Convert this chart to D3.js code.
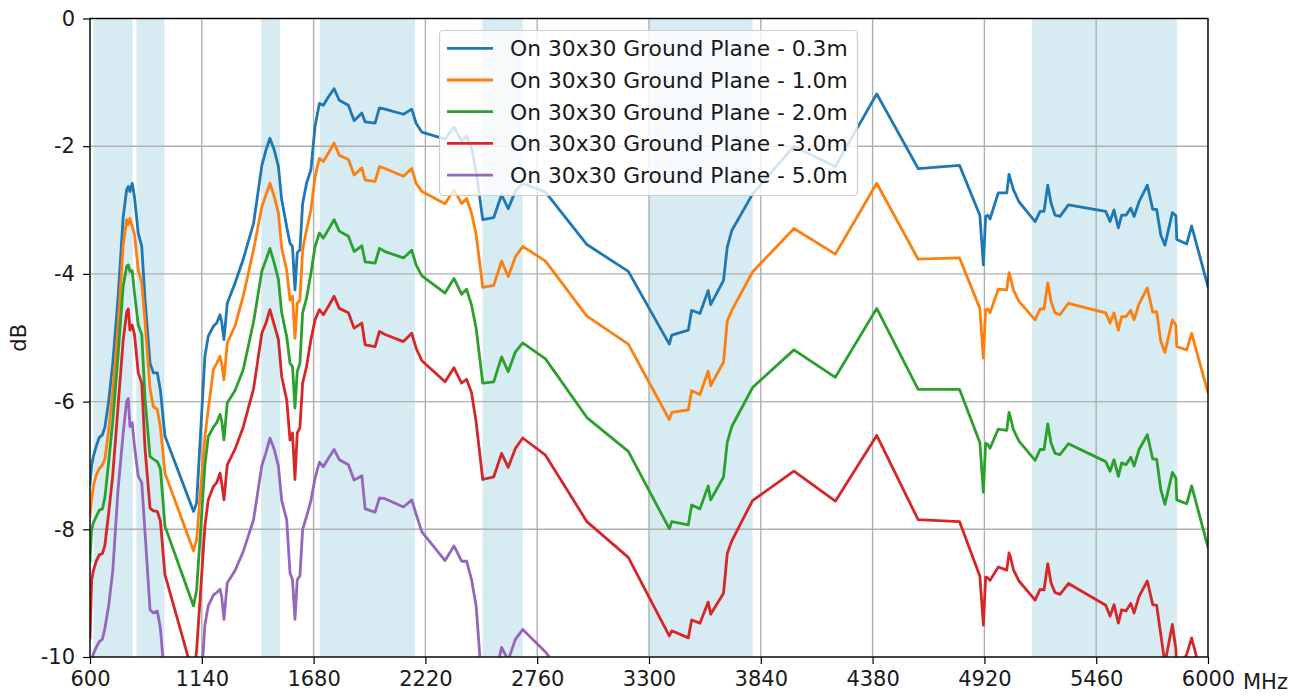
<!DOCTYPE html>
<html>
<head>
<meta charset="utf-8">
<script src="https://cdn.jsdelivr.net/npm/d3@7"></script>
<style>
  html, body { margin: 0; padding: 0; background: #fff; }
  svg { display: block; font-family: "DejaVu Sans", sans-serif; }
</style>
</head>
<body>
<svg id="chart" width="1305" height="695"></svg>
<script>
// ---------- data ----------
const freqMHz = [
  600, 608, 616, 630, 645, 660, 672, 690, 710, 735,
  760, 777, 785, 793, 804, 815, 833, 850, 866, 890,
  906, 925, 940, 962, 1100, 1115, 1155, 1171, 1196, 1212,
  1228, 1236, 1247, 1263, 1300, 1340, 1390, 1430, 1450, 1469,
  1490, 1510, 1526, 1550, 1566, 1578, 1590, 1601, 1614, 1627,
  1646, 1667, 1687, 1708, 1727, 1751, 1779, 1804, 1848, 1876,
  1913, 1929, 1977, 1998, 2025, 2114, 2154, 2175, 2203, 2315,
  2358, 2395, 2419, 2443, 2465, 2497, 2550, 2588, 2620, 2655,
  2690, 2800, 3000, 3200, 3398, 3410, 3490, 3506, 3546, 3586,
  3598, 3660, 3678, 3700, 3800, 4000, 4200, 4400, 4600, 4800,
  4898, 4915, 4926, 4936, 4947, 4987, 5028, 5039, 5047, 5060,
  5087, 5165, 5189, 5208, 5226, 5242, 5261, 5285, 5326, 5506,
  5527, 5546, 5567, 5583, 5604, 5627, 5643, 5667, 5707, 5733,
  5752, 5772, 5792, 5828, 5845, 5849, 5897, 5921, 6000
];

const gp03 = [
  -7.3, -7.0, -6.86, -6.7, -6.56, -6.52, -6.4, -6.0, -5.4, -4.4,
  -3.12, -2.68, -2.63, -2.71, -2.58, -2.8, -3.36, -3.57, -4.41, -5.40,
  -5.55, -5.55, -5.82, -6.54, -7.72, -7.59, -5.29, -4.98, -4.82, -4.77,
  -4.64, -4.75, -5.03, -4.46, -4.15, -3.77, -3.21, -2.30, -2.06, -1.875,
  -2.06, -2.32, -2.84, -3.26, -3.52, -3.57, -4.25, -3.67, -3.62, -2.90,
  -2.58, -2.37, -1.69, -1.33, -1.36, -1.23, -1.10, -1.28, -1.36, -1.60,
  -1.48, -1.62, -1.64, -1.40, -1.42, -1.50, -1.42, -1.64, -1.78, -1.89,
  -1.70, -1.92, -1.84, -2.03, -2.40, -3.15, -3.12, -2.76, -2.98, -2.70,
  -2.58, -2.72, -3.54, -3.96, -5.10, -4.96, -4.88, -4.57, -4.62, -4.26,
  -4.48, -4.10, -3.58, -3.32, -2.75, -2.00, -2.32, -1.18, -2.35, -2.30,
  -3.08, -3.86, -3.10, -3.08, -3.14, -2.73, -2.73, -2.44, -2.53, -2.68,
  -2.87, -3.18, -3.02, -3.02, -2.61, -2.89, -3.08, -3.10, -2.92, -3.02,
  -3.18, -3.00, -3.28, -3.08, -3.08, -2.97, -3.10, -2.87, -2.61, -2.99,
  -2.99, -3.39, -3.55, -3.04, -3.09, -3.46, -3.53, -3.25, -4.20
];

const gp10 = [
  -7.8, -7.54, -7.33, -7.15, -7.05, -6.99, -6.9, -6.45, -5.85, -4.85,
  -3.56, -3.15, -3.23, -3.13, -3.26, -3.38, -3.94, -4.14, -4.75, -5.80,
  -6.08, -6.12, -6.40, -7.12, -8.34, -8.16, -6.55, -6.13, -5.50, -5.40,
  -5.29, -5.40, -5.66, -5.08, -4.82, -4.35, -3.62, -2.95, -2.76, -2.58,
  -2.79, -3.05, -3.60, -3.94, -4.41, -4.35, -5.01, -4.46, -4.41, -3.62,
  -3.31, -3.00, -2.48, -2.19, -2.24, -2.11, -1.95, -2.14, -2.21, -2.45,
  -2.34, -2.53, -2.55, -2.32, -2.35, -2.47, -2.35, -2.58, -2.71, -2.90,
  -2.68, -2.90, -2.82, -3.05, -3.38, -4.21, -4.18, -3.80, -4.04, -3.73,
  -3.57, -3.80, -4.66, -5.10, -6.28, -6.17, -6.13, -5.83, -5.89, -5.52,
  -5.75, -5.38, -4.74, -4.57, -3.97, -3.29, -3.69, -2.58, -3.77, -3.75,
  -4.54, -5.32, -4.56, -4.55, -4.61, -4.24, -4.25, -3.98, -4.07, -4.25,
  -4.43, -4.72, -4.55, -4.55, -4.14, -4.43, -4.61, -4.64, -4.46, -4.61,
  -4.77, -4.61, -4.88, -4.67, -4.67, -4.57, -4.72, -4.47, -4.22, -4.60,
  -4.59, -5.06, -5.23, -4.72, -4.80, -5.14, -5.19, -4.93, -5.86
];

const gp20 = [
  -8.5, -8.0, -7.90, -7.80, -7.70, -7.68, -7.5, -6.95, -6.3, -5.3,
  -4.2, -3.88, -3.86, -3.96, -3.95, -4.3, -4.8, -4.95, -5.97, -6.86,
  -6.90, -6.94, -7.05, -7.95, -9.2, -8.95, -7.0, -6.55, -6.40, -6.33,
  -6.20, -6.30, -6.60, -6.02, -5.83, -5.5, -4.75, -3.96, -3.78, -3.60,
  -3.83, -4.09, -4.61, -4.98, -5.40, -5.45, -6.10, -5.53, -5.40, -4.61,
  -4.38, -3.99, -3.57, -3.36, -3.44, -3.31, -3.15, -3.33, -3.41, -3.65,
  -3.56, -3.81, -3.83, -3.60, -3.65, -3.75, -3.63, -3.86, -4.03, -4.30,
  -4.07, -4.32, -4.24, -4.49, -4.85, -5.71, -5.69, -5.30, -5.53, -5.22,
  -5.08, -5.33, -6.25, -6.78, -7.99, -7.88, -7.93, -7.62, -7.68, -7.32,
  -7.54, -7.18, -6.64, -6.39, -5.78, -5.19, -5.62, -4.54, -5.81, -5.81,
  -6.64, -7.42, -6.65, -6.67, -6.73, -6.43, -6.45, -6.17, -6.26, -6.44,
  -6.62, -6.92, -6.75, -6.75, -6.35, -6.65, -6.81, -6.83, -6.66, -6.94,
  -7.09, -6.91, -7.17, -6.96, -6.99, -6.87, -7.01, -6.75, -6.52, -6.90,
  -6.90, -7.38, -7.61, -7.11, -7.20, -7.54, -7.60, -7.32, -8.28
];

const gp30 = [
  -9.7, -8.8, -8.65, -8.5, -8.40, -8.38, -8.25, -7.75, -7.15, -6.1,
  -5.05, -4.6, -4.55, -4.88, -4.80, -4.95, -5.55, -5.71, -6.75, -7.67,
  -7.71, -7.72, -7.87, -8.71, -10.3, -9.9, -7.95, -7.54, -7.33, -7.27,
  -7.12, -7.27, -7.54, -6.99, -6.75, -6.4, -5.8, -4.93, -4.77, -4.56,
  -4.80, -5.03, -5.61, -5.97, -6.60, -6.49, -7.22, -6.49, -6.41, -5.71,
  -5.45, -5.03, -4.72, -4.56, -4.64, -4.51, -4.35, -4.54, -4.61, -4.85,
  -4.77, -5.11, -5.14, -4.90, -4.95, -5.06, -4.93, -5.16, -5.36, -5.69,
  -5.47, -5.71, -5.65, -5.86, -6.32, -7.22, -7.18, -6.81, -7.03, -6.73,
  -6.57, -6.84, -7.88, -8.44, -9.67, -9.59, -9.70, -9.42, -9.47, -9.14,
  -9.33, -9.00, -8.38, -8.18, -7.55, -7.09, -7.56, -6.53, -7.85, -7.88,
  -8.73, -9.50, -8.75, -8.76, -8.80, -8.59, -8.64, -8.37, -8.45, -8.63,
  -8.81, -9.11, -8.94, -8.95, -8.54, -8.84, -8.99, -9.02, -8.85, -9.19,
  -9.36, -9.18, -9.47, -9.26, -9.28, -9.16, -9.31, -9.05, -8.81, -9.18,
  -9.19, -9.65, -10.1, -9.49, -9.88, -10.2, -9.96, -9.70, -10.7
];

// 5.0 m trace: only read up to where it leaves the plotted range
const gp50 = [
  -10.3, -10.05, -9.95, -9.85, -9.76, -9.72, -9.55, -9.2, -8.65, -7.4,
  -6.5, -6.0, -5.95, -6.39, -6.33, -6.7, -7.17, -7.27, -8.06, -9.26,
  -9.31, -9.28, -9.55, -10.4, -11.8, -11.5, -9.5, -9.2, -9.03, -8.99,
  -8.94, -9.05, -9.41, -8.84, -8.65, -8.35, -7.85, -7.0, -6.80, -6.57,
  -6.75, -7.01, -7.55, -7.85, -8.68, -8.79, -9.41, -8.79, -8.73, -8.0,
  -7.8, -7.55, -7.2, -6.95, -7.02, -6.89, -6.75, -6.91, -6.99, -7.23,
  -7.16, -7.68, -7.73, -7.51, -7.52, -7.65, -7.54, -7.76, -8.04, -8.49,
  -8.26, -8.50, -8.50, -8.79, -9.2, -10.6, -10.4, -9.85, -10.05, -9.72,
  -9.57, -9.92, -10.8
];

const seriesNames = [
  "On 30x30 Ground Plane - 0.3m",
  "On 30x30 Ground Plane - 1.0m",
  "On 30x30 Ground Plane - 2.0m",
  "On 30x30 Ground Plane - 3.0m",
  "On 30x30 Ground Plane - 5.0m"
];
const seriesValues = [gp03, gp10, gp20, gp30, gp50];
const seriesColors = ["#1f77b4", "#ff7f0e", "#2ca02c", "#d62728", "#9467bd"];

// shaded frequency bands (MHz)
const bandStart = [617, 824, 1427, 1710, 2496, 3300, 5150];
const bandEnd   = [806, 960, 1518, 2170, 2690, 3800, 5850];

const xTicks = [600, 1140, 1680, 2220, 2760, 3300, 3840, 4380, 4920, 5460, 6000];
const yTicks = [0, -2, -4, -6, -8, -10];
const yTickLabels = ["0", "-2", "-4", "-6", "-8", "-10"];
const xUnit = "MHz";
const yTitle = "dB";

// ---------- layout ----------
const svg = d3.select("#chart");
const L = 90, R = 1208, T = 18.5, B = 657;
const FONT = 21;
const LEGFONT = 21.8;

const x = d3.scaleLinear().domain([600, 6000]).range([L, R]);
const y = d3.scaleLinear().domain([-10, 0]).range([B, T]);

svg.append("defs").append("clipPath").attr("id", "plotclip")
  .append("rect").attr("x", L).attr("y", T).attr("width", R - L).attr("height", B - T);

// bands
svg.append("g").selectAll("rect")
  .data(bandStart.map((s, i) => [s, bandEnd[i]]))
  .join("rect")
  .attr("x", d => x(d[0]))
  .attr("width", d => x(d[1]) - x(d[0]))
  .attr("y", T).attr("height", B - T)
  .attr("fill", "#add8e6").attr("fill-opacity", 0.5);

// grid
const grid = svg.append("g").attr("stroke", "#b0b0b0").attr("stroke-width", 1.4);
grid.selectAll("line.vx").data(xTicks).join("line")
  .attr("x1", d => x(d)).attr("x2", d => x(d)).attr("y1", T).attr("y2", B);
grid.selectAll("line.hy").data(yTicks).join("line")
  .attr("y1", d => y(d)).attr("y2", d => y(d)).attr("x1", L).attr("x2", R);

// lines
const line = d3.line()
  .defined(d => d.v !== undefined && d.v !== null)
  .x(d => x(d.f)).y(d => y(d.v));
const lg = svg.append("g").attr("clip-path", "url(#plotclip)");
seriesValues.forEach((vals, i) => {
  const pts = freqMHz.map((f, j) => ({ f, v: vals[j] }));
  lg.append("path").datum(pts)
    .attr("d", line)
    .attr("fill", "none")
    .attr("stroke", seriesColors[i])
    .attr("stroke-width", 2.8)
    .attr("stroke-linejoin", "round")
    .attr("stroke-linecap", "square");
});

// axes
const xAxis = d3.axisBottom(x).tickValues(xTicks).tickFormat(d3.format("d"))
  .tickSize(7).tickPadding(7);
const gx = svg.append("g").attr("transform", `translate(0,${B})`).call(xAxis);
const yAxis = d3.axisLeft(y).tickValues(yTicks).tickFormat((d, i) => yTickLabels[i])
  .tickSize(7).tickPadding(8);
const gy = svg.append("g").attr("transform", `translate(${L},0)`).call(yAxis);
[gx, gy].forEach(g => {
  g.select(".domain").remove();
  g.selectAll(".tick line").attr("stroke", "#000").attr("stroke-width", 1.2);
  g.selectAll(".tick text").attr("fill", "#1a1a1a").style("font-size", FONT + "px")
    .style("font-family", "DejaVu Sans");
});

// frame
svg.append("rect").attr("x", L).attr("y", T).attr("width", R - L).attr("height", B - T)
  .attr("fill", "none").attr("stroke", "#000").attr("stroke-width", 1.3);

// unit label beside last x tick
svg.append("text").attr("x", 1243).attr("y", 689)
  .attr("fill", "#1a1a1a").style("font-size", FONT + "px").text(xUnit);

// y title
svg.append("text")
  .attr("transform", `translate(26,${(T + B) / 2}) rotate(-90)`)
  .attr("text-anchor", "middle")
  .attr("fill", "#1a1a1a").style("font-size", FONT + "px").text(yTitle);

// legend
const leg = svg.append("g");
leg.append("rect").attr("x", 439.5).attr("y", 30.5).attr("width", 418).attr("height", 165)
  .attr("rx", 4).attr("fill", "#fff").attr("fill-opacity", 0.8)
  .attr("stroke", "#cccccc").attr("stroke-width", 1.2);
seriesNames.forEach((name, i) => {
  const cy = 48.3 + i * 31.7;
  leg.append("line").attr("x1", 447).attr("x2", 493).attr("y1", cy).attr("y2", cy)
    .attr("stroke", seriesColors[i]).attr("stroke-width", 2.8);
  leg.append("text").attr("x", 510).attr("y", cy).attr("dy", "0.36em")
    .attr("fill", "#1a1a1a").style("font-size", LEGFONT + "px").text(name);
});
</script>
</body>
</html>
